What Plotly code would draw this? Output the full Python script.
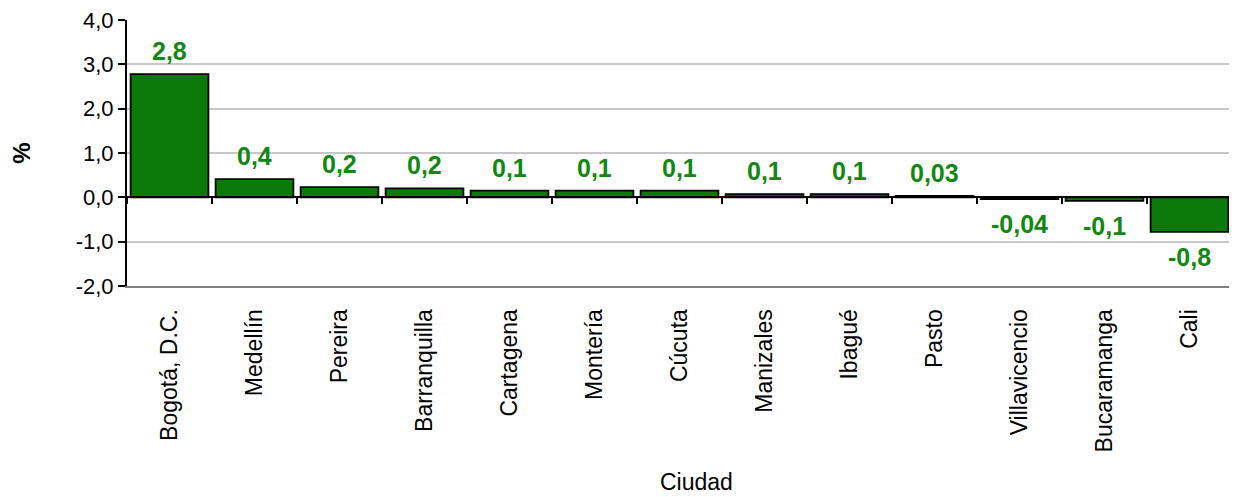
import plotly.graph_objects as go

ciudades = ["Bogotá, D.C.", "Medellín", "Pereira", "Barranquilla", "Cartagena",
            "Montería", "Cúcuta", "Manizales", "Ibagué", "Pasto",
            "Villavicencio", "Bucaramanga", "Cali"]
valores = [2.78, 0.41, 0.23, 0.20, 0.15, 0.15, 0.15, 0.07, 0.07, 0.03,
           -0.04, -0.08, -0.78]
etiquetas = ["2,8", "0,4", "0,2", "0,2", "0,1", "0,1", "0,1", "0,1", "0,1", "0,03",
             "-0,04", "-0,1", "-0,8"]
y_ticks = [-2, -1, 0, 1, 2, 3, 4]
y_ticktext = ["-2,0", "-1,0", "0,0", "1,0", "2,0", "3,0", "4,0"]

VERDE = "#0b7a0b"
VERDE_TEXTO = "#118811"
FUENTE = "Liberation Sans, Arial"

fig = go.Figure()
fig.add_trace(go.Bar(
    x=ciudades,
    y=valores,
    marker=dict(color=VERDE, line=dict(color="black", width=1.8)),
    hoverinfo="x+y",
))
# traza invisible para el eje de categorías sobre la línea del cero
fig.add_trace(go.Scatter(x=ciudades, y=valores, mode="none", xaxis="x2",
                         hoverinfo="skip"))

# etiquetas de datos encima / debajo de cada barra
for c, v, t in zip(ciudades, valores, etiquetas):
    fig.add_annotation(
        x=c, y=v, text="<b>" + t + "</b>", showarrow=False,
        yshift=23 if v >= 0 else -25,
        font=dict(family=FUENTE, size=25, color=VERDE_TEXTO),
        yanchor="middle",
    )

fig.add_annotation(
    x=0.515, y=-0.737, xref="paper", yref="paper", yanchor="middle",
    text="Ciudad", showarrow=False,
    font=dict(family=FUENTE, size=23, color="black"),
)

# borde derecho gris del área de trazado
fig.add_shape(type="line", xref="paper", yref="paper", x0=1, x1=1, y0=0, y1=1,
              line=dict(color="#808080", width=2))

fig.update_layout(
    width=1229, height=489,
    margin=dict(l=119, r=5, t=12, b=211, autoexpand=False),
    paper_bgcolor="white", plot_bgcolor="white",
    bargap=0.085,
    showlegend=False,
    font=dict(family=FUENTE, color="black"),
    xaxis=dict(
        tickangle=-90,
        tickfont=dict(size=23),
        showline=True, linecolor="#808080", linewidth=2,
        ticks="", showgrid=False,
        ticklabelstandoff=12,
        automargin=False,
    ),
    xaxis2=dict(
        overlaying="x", matches="x", anchor="free", position=1 / 3,
        showticklabels=False, showgrid=False,
        showline=True, linecolor="black", linewidth=2,
        ticks="outside", tickson="boundaries", ticklen=6,
        tickcolor="black", tickwidth=2,
    ),
    yaxis=dict(
        range=[-2, 4], tickmode="array", tickvals=y_ticks, ticktext=y_ticktext,
        tickfont=dict(size=22),
        ticklabeloverflow="allow",
        automargin=False,
        showline=True, linecolor="black", linewidth=2,
        ticks="outside", ticklen=7, tickcolor="black", tickwidth=2,
        showgrid=True, gridcolor="#c8c8c8", gridwidth=1.5,
        zeroline=False,
        title=dict(text="<b>%</b>", font=dict(size=24), standoff=42),
    ),
)

fig.write_html("out.html")
